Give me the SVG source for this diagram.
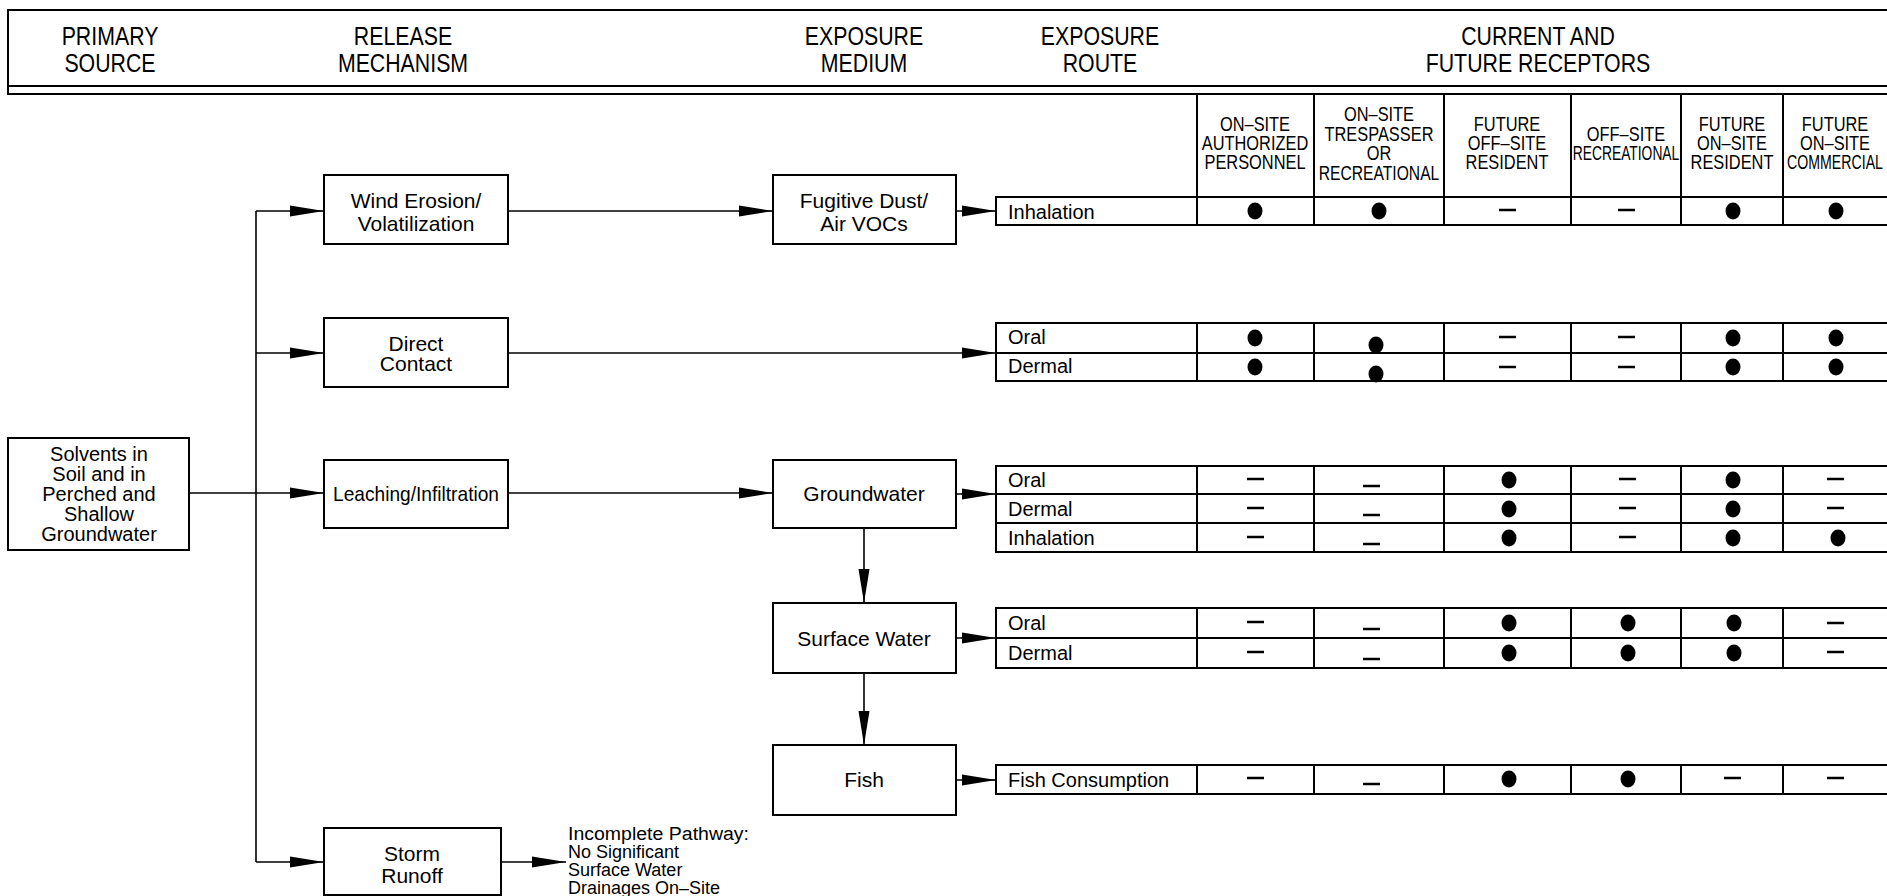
<svg xmlns="http://www.w3.org/2000/svg" width="1887" height="896" viewBox="0 0 1887 896">
<defs>
<style>
.hd{font-family:"Liberation Sans",sans-serif;font-size:26px;text-anchor:middle;fill:#000}
.th{font-family:"Liberation Sans",sans-serif;font-size:20px;text-anchor:middle;fill:#000}
.bx{font-family:"Liberation Sans",sans-serif;font-size:21px;text-anchor:middle;fill:#000}
.rt{font-family:"Liberation Sans",sans-serif;font-size:20px;fill:#000}
.nt{font-family:"Liberation Sans",sans-serif;font-size:18px;fill:#000}
.box{fill:#fff;stroke:#000;stroke-width:2}
.ln{fill:none;stroke:#000;stroke-width:1.6}
.tl{fill:none;stroke:#000;stroke-width:2}
.dot{fill:#000}
.dash{stroke:#000;stroke-width:2.5}
</style>
<marker id="ah" markerWidth="34" markerHeight="12" refX="34" refY="6" orient="auto" markerUnits="userSpaceOnUse">
<path d="M0,0.5 L34,6 L0,11.5 Z" fill="#000"/>
</marker>
</defs>
<rect width="1887" height="896" fill="#fff"/>

<g id="header">
<path class="tl" d="M1887,10 H8 V94 H1887 M8,86 H1887"/>
<text class="hd" transform="translate(110,45) scale(0.82,1)">PRIMARY</text>
<text class="hd" transform="translate(110,72) scale(0.82,1)">SOURCE</text>
<text class="hd" transform="translate(403,45) scale(0.82,1)">RELEASE</text>
<text class="hd" transform="translate(403,72) scale(0.82,1)">MECHANISM</text>
<text class="hd" transform="translate(864,45) scale(0.82,1)">EXPOSURE</text>
<text class="hd" transform="translate(864,72) scale(0.82,1)">MEDIUM</text>
<text class="hd" transform="translate(1100,45) scale(0.82,1)">EXPOSURE</text>
<text class="hd" transform="translate(1100,72) scale(0.82,1)">ROUTE</text>
<text class="hd" transform="translate(1538,45) scale(0.82,1)">CURRENT AND</text>
<text class="hd" transform="translate(1538,72) scale(0.82,1)">FUTURE  RECEPTORS</text>
</g>

<g id="receptor-headers">
<path class="tl" d="M1197,94 V197 M1314,94 V197 M1444,94 V197 M1571,94 V197 M1681,94 V197 M1783,94 V197"/>
<text class="th" transform="translate(1255,131) scale(0.82,1)">ON–SITE</text>
<text class="th" transform="translate(1255,150) scale(0.82,1)">AUTHORIZED</text>
<text class="th" transform="translate(1255,169) scale(0.82,1)">PERSONNEL</text>
<text class="th" transform="translate(1379,121) scale(0.82,1)">ON–SITE</text>
<text class="th" transform="translate(1379,141) scale(0.82,1)">TRESPASSER</text>
<text class="th" transform="translate(1379,160) scale(0.82,1)">OR</text>
<text class="th" transform="translate(1379,180) scale(0.82,1)" textLength="147" lengthAdjust="spacingAndGlyphs">RECREATIONAL</text>
<text class="th" transform="translate(1507,131) scale(0.82,1)">FUTURE</text>
<text class="th" transform="translate(1507,150) scale(0.82,1)">OFF–SITE</text>
<text class="th" transform="translate(1507,169) scale(0.82,1)">RESIDENT</text>
<text class="th" transform="translate(1626,141) scale(0.82,1)">OFF–SITE</text>
<text class="th" transform="translate(1626,160) scale(0.82,1)" textLength="130" lengthAdjust="spacingAndGlyphs">RECREATIONAL</text>
<text class="th" transform="translate(1732,131) scale(0.82,1)">FUTURE</text>
<text class="th" transform="translate(1732,150) scale(0.82,1)">ON–SITE</text>
<text class="th" transform="translate(1732,169) scale(0.82,1)">RESIDENT</text>
<text class="th" transform="translate(1835,131) scale(0.82,1)">FUTURE</text>
<text class="th" transform="translate(1835,150) scale(0.82,1)">ON–SITE</text>
<text class="th" transform="translate(1835,169) scale(0.82,1)" textLength="117" lengthAdjust="spacingAndGlyphs">COMMERCIAL</text>
</g>

<g id="source">
<rect class="box" x="8" y="438" width="181" height="112"/>
<text class="bx" style="font-size:20px" x="99" y="461">Solvents in</text>
<text class="bx" style="font-size:20px" x="99" y="481">Soil and in</text>
<text class="bx" style="font-size:20px" x="99" y="501">Perched and</text>
<text class="bx" style="font-size:20px" x="99" y="521">Shallow</text>
<text class="bx" style="font-size:20px" x="99" y="541">Groundwater</text>
</g>

<g id="wind-erosion">
<rect class="box" x="324" y="175" width="184" height="69"/>
<text class="bx" x="416" y="208">Wind Erosion/</text>
<text class="bx" x="416" y="231">Volatilization</text>
</g>
<g id="direct-contact">
<rect class="box" x="324" y="318" width="184" height="69"/>
<text class="bx" x="416" y="351">Direct</text>
<text class="bx" x="416" y="371">Contact</text>
</g>
<g id="leaching">
<rect class="box" x="324" y="460" width="184" height="68"/>
<text class="bx" x="416" y="501" textLength="166" lengthAdjust="spacingAndGlyphs">Leaching/Infiltration</text>
</g>
<g id="storm-runoff">
<rect class="box" x="324" y="828" width="177" height="67"/>
<text class="bx" x="412" y="861">Storm</text>
<text class="bx" x="412" y="883">Runoff</text>
</g>
<g id="incomplete-note">
<text class="nt" x="568" y="840" textLength="181" lengthAdjust="spacingAndGlyphs">Incomplete Pathway:</text>
<text class="nt" x="568" y="858">No Significant</text>
<text class="nt" x="568" y="876">Surface Water</text>
<text class="nt" x="568" y="894">Drainages On–Site</text>
</g>

<g id="fugitive-dust">
<rect class="box" x="773" y="175" width="183" height="69"/>
<text class="bx" x="864" y="208">Fugitive Dust/</text>
<text class="bx" x="864" y="231">Air VOCs</text>
</g>
<g id="groundwater">
<rect class="box" x="773" y="460" width="183" height="68"/>
<text class="bx" x="864" y="501">Groundwater</text>
</g>
<g id="surface-water">
<rect class="box" x="773" y="603" width="183" height="70"/>
<text class="bx" x="864" y="646">Surface Water</text>
</g>
<g id="fish">
<rect class="box" x="773" y="745" width="183" height="70"/>
<text class="bx" x="864" y="787">Fish</text>
</g>

<g id="connectors">
<path class="ln" d="M256,211 V862"/>
<path class="ln" d="M189,493 H324" marker-end="url(#ah)"/>
<path class="ln" d="M256,211 H324" marker-end="url(#ah)"/>
<path class="ln" d="M256,353 H324" marker-end="url(#ah)"/>
<path class="ln" d="M256,862 H324" marker-end="url(#ah)"/>
<path class="ln" d="M508,211 H773" marker-end="url(#ah)"/>
<path class="ln" d="M508,353 H996" marker-end="url(#ah)"/>
<path class="ln" d="M508,493 H773" marker-end="url(#ah)"/>
<path class="ln" d="M501,862 H566" marker-end="url(#ah)"/>
<path class="ln" d="M956,211 H996" marker-end="url(#ah)"/>
<path class="ln" d="M956,494 H996" marker-end="url(#ah)"/>
<path class="ln" d="M956,638 H996" marker-end="url(#ah)"/>
<path class="ln" d="M956,780 H996" marker-end="url(#ah)"/>
<path class="ln" d="M864,528 V603" marker-end="url(#ah)"/>
<path class="ln" d="M864,673 V745" marker-end="url(#ah)"/>
</g>

<g id="table-inhalation">
<path class="tl" d="M1887,197 H996 V225 H1887 M1197,197 V225 M1314,197 V225 M1444,197 V225 M1571,197 V225 M1681,197 V225 M1783,197 V225"/>
<text class="rt" x="1008" y="219">Inhalation</text>
<ellipse class="dot" cx="1255" cy="211" rx="7.5" ry="8.5"/>
<ellipse class="dot" cx="1379" cy="211" rx="7.5" ry="8.5"/>
<line class="dash" x1="1499" y1="210" x2="1516" y2="210"/>
<line class="dash" x1="1618" y1="210" x2="1635" y2="210"/>
<ellipse class="dot" cx="1733" cy="211" rx="7.5" ry="8.5"/>
<ellipse class="dot" cx="1836" cy="211" rx="7.5" ry="8.5"/>
</g>

<g id="table-direct">
<path class="tl" d="M1887,323 H996 V381 H1887 M996,353 H1887 M1197,323 V381 M1314,323 V381 M1444,323 V381 M1571,323 V381 M1681,323 V381 M1783,323 V381"/>
<text class="rt" x="1008" y="344">Oral</text>
<text class="rt" x="1008" y="373">Dermal</text>
<ellipse class="dot" cx="1255" cy="338" rx="7.5" ry="8.5"/>
<ellipse class="dot" cx="1376" cy="345" rx="7.5" ry="8.5"/>
<line class="dash" x1="1499" y1="337" x2="1516" y2="337"/>
<line class="dash" x1="1618" y1="337" x2="1635" y2="337"/>
<ellipse class="dot" cx="1733" cy="338" rx="7.5" ry="8.5"/>
<ellipse class="dot" cx="1836" cy="338" rx="7.5" ry="8.5"/>
<ellipse class="dot" cx="1255" cy="367" rx="7.5" ry="8.5"/>
<ellipse class="dot" cx="1376" cy="374" rx="7.5" ry="8.5"/>
<line class="dash" x1="1499" y1="367" x2="1516" y2="367"/>
<line class="dash" x1="1618" y1="367" x2="1635" y2="367"/>
<ellipse class="dot" cx="1733" cy="367" rx="7.5" ry="8.5"/>
<ellipse class="dot" cx="1836" cy="367" rx="7.5" ry="8.5"/>
</g>

<g id="table-groundwater">
<path class="tl" d="M1887,466 H996 V552 H1887 M996,494 H1887 M996,523 H1887 M1197,466 V552 M1314,466 V552 M1444,466 V552 M1571,466 V552 M1681,466 V552 M1783,466 V552"/>
<text class="rt" x="1008" y="487">Oral</text>
<text class="rt" x="1008" y="516">Dermal</text>
<text class="rt" x="1008" y="545">Inhalation</text>
<line class="dash" x1="1247" y1="479" x2="1264" y2="479"/>
<line class="dash" x1="1363" y1="486" x2="1380" y2="486"/>
<ellipse class="dot" cx="1509" cy="480" rx="7.5" ry="8.5"/>
<line class="dash" x1="1619" y1="479" x2="1636" y2="479"/>
<ellipse class="dot" cx="1733" cy="480" rx="7.5" ry="8.5"/>
<line class="dash" x1="1827" y1="479" x2="1844" y2="479"/>
<line class="dash" x1="1247" y1="508" x2="1264" y2="508"/>
<line class="dash" x1="1363" y1="515" x2="1380" y2="515"/>
<ellipse class="dot" cx="1509" cy="509" rx="7.5" ry="8.5"/>
<line class="dash" x1="1619" y1="508" x2="1636" y2="508"/>
<ellipse class="dot" cx="1733" cy="509" rx="7.5" ry="8.5"/>
<line class="dash" x1="1827" y1="508" x2="1844" y2="508"/>
<line class="dash" x1="1247" y1="537" x2="1264" y2="537"/>
<line class="dash" x1="1363" y1="544" x2="1380" y2="544"/>
<ellipse class="dot" cx="1509" cy="538" rx="7.5" ry="8.5"/>
<line class="dash" x1="1619" y1="537" x2="1636" y2="537"/>
<ellipse class="dot" cx="1733" cy="538" rx="7.5" ry="8.5"/>
<ellipse class="dot" cx="1838" cy="538" rx="7.5" ry="8.5"/>
</g>

<g id="table-surface">
<path class="tl" d="M1887,608 H996 V668 H1887 M996,638 H1887 M1197,608 V668 M1314,608 V668 M1444,608 V668 M1571,608 V668 M1681,608 V668 M1783,608 V668"/>
<text class="rt" x="1008" y="630">Oral</text>
<text class="rt" x="1008" y="660">Dermal</text>
<line class="dash" x1="1247" y1="622" x2="1264" y2="622"/>
<line class="dash" x1="1363" y1="629" x2="1380" y2="629"/>
<ellipse class="dot" cx="1509" cy="623" rx="7.5" ry="8.5"/>
<ellipse class="dot" cx="1628" cy="623" rx="7.5" ry="8.5"/>
<ellipse class="dot" cx="1734" cy="623" rx="7.5" ry="8.5"/>
<line class="dash" x1="1827" y1="623" x2="1844" y2="623"/>
<line class="dash" x1="1247" y1="652" x2="1264" y2="652"/>
<line class="dash" x1="1363" y1="659" x2="1380" y2="659"/>
<ellipse class="dot" cx="1509" cy="653" rx="7.5" ry="8.5"/>
<ellipse class="dot" cx="1628" cy="653" rx="7.5" ry="8.5"/>
<ellipse class="dot" cx="1734" cy="653" rx="7.5" ry="8.5"/>
<line class="dash" x1="1827" y1="652" x2="1844" y2="652"/>
</g>

<g id="table-fish">
<path class="tl" d="M1887,765 H996 V794 H1887 M1197,765 V794 M1314,765 V794 M1444,765 V794 M1571,765 V794 M1681,765 V794 M1783,765 V794"/>
<text class="rt" x="1008" y="787">Fish Consumption</text>
<line class="dash" x1="1247" y1="778" x2="1264" y2="778"/>
<line class="dash" x1="1363" y1="784" x2="1380" y2="784"/>
<ellipse class="dot" cx="1509" cy="779" rx="7.5" ry="8.5"/>
<ellipse class="dot" cx="1628" cy="779" rx="7.5" ry="8.5"/>
<line class="dash" x1="1724" y1="778" x2="1741" y2="778"/>
<line class="dash" x1="1827" y1="778" x2="1844" y2="778"/>
</g>
</svg>
